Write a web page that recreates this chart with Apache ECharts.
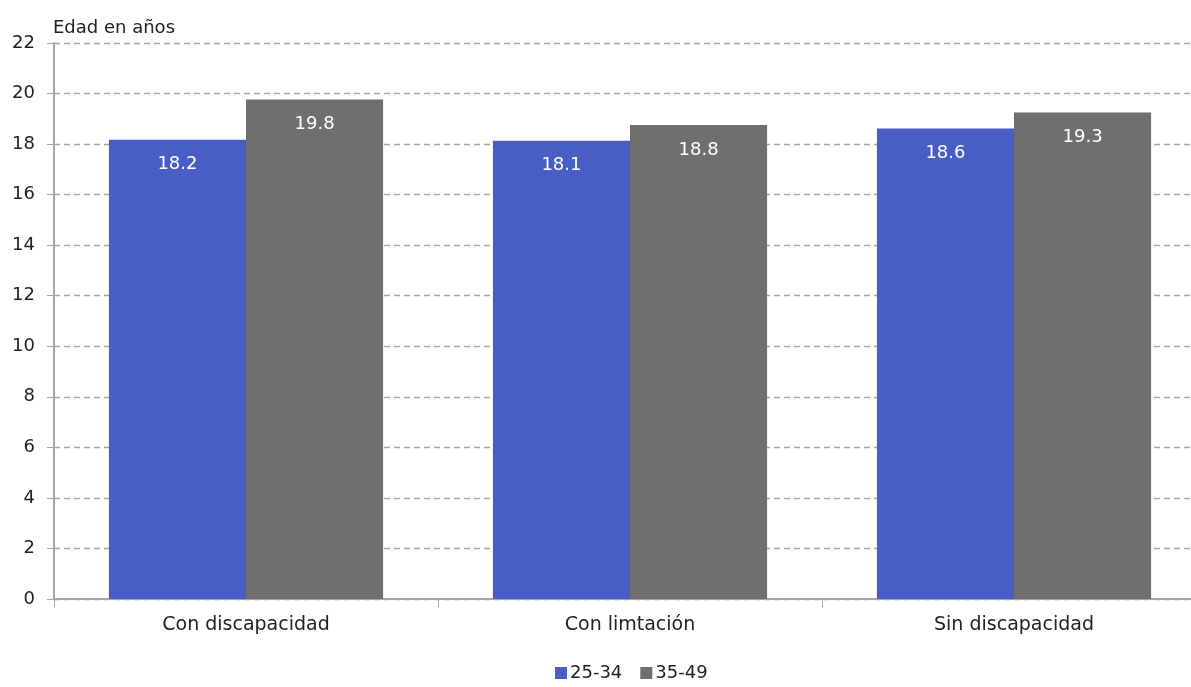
<!DOCTYPE html>
<html>
<head>
<meta charset="utf-8">
<script src="https://cdn.jsdelivr.net/npm/echarts@6/dist/echarts.min.js"></script>
<style>
  html, body { margin: 0; padding: 0; background: #fff; }
  #chart { width: 1191px; height: 687px; }
</style>
</head>
<body>
<div id="chart"></div>
<script>
const categories = ['Con discapacidad', 'Con limtación', 'Sin discapacidad']
const seriesNames = ['25-34', '35-49']
const values2534 = [18.17, 18.13, 18.62]
const values3549 = [19.76, 18.76, 19.25]
const colors = ['#485DC5', '#6F6F6F']

const font = 'DejaVu Sans'
const chart = echarts.init(document.getElementById('chart'))

function barSeries(name, data, color) {
  return {
    name: name,
    type: 'bar',
    data: data,
    barGap: '0%',
    barCategoryGap: '28.6%',
    itemStyle: { color: color },
    label: {
      show: true,
      position: 'insideTop',
      distance: 16,
      color: '#fff',
      fontFamily: font,
      fontSize: 18,
      formatter: p => p.value.toFixed(1)
    }
  }
}

chart.setOption({
  animation: false,
  textStyle: { fontFamily: font },
  // plot runs past the right edge, as in the source image
  grid: { left: 54, top: 43, width: 1152, height: 556, outerBoundsMode: 'none', containLabel: false },
  legend: {
    bottom: 0,
    left: 550,
    itemWidth: 12,
    itemHeight: 12,
    itemGap: 18,
    icon: 'rect',
    textStyle: { fontFamily: font, fontSize: 18, color: '#222', padding: [0, 0, 0, -2] },
    data: seriesNames
  },
  xAxis: {
    type: 'category',
    data: categories,
    axisLine: { lineStyle: { color: '#a6a6a6', width: 2 } },
    axisTick: { show: true, length: 8, lineStyle: { color: '#a6a6a6' } },
    axisLabel: { color: '#222', fontSize: 19, margin: 17, fontFamily: font }
  },
  yAxis: {
    type: 'value',
    min: 0,
    max: 22,
    interval: 2,
    name: 'Edad en años',
    nameLocation: 'end',
    nameGap: 6,
    nameTextStyle: { align: 'left', verticalAlign: 'bottom', color: '#222', fontSize: 18, fontFamily: font, padding: [0, 0, 0, -1] },
    axisLine: { show: true, lineStyle: { color: '#a6a6a6', width: 2 } },
    axisTick: { show: true, length: 7, lineStyle: { color: '#a6a6a6' } },
    axisLabel: { color: '#222', fontSize: 18, margin: 19, fontFamily: font },
    splitLine: { lineStyle: { color: '#a6a6a6', type: [6, 4], width: 1.3 } }
  },
  series: [
    barSeries(seriesNames[0], values2534, colors[0]),
    barSeries(seriesNames[1], values3549, colors[1])
  ]
})
</script>
</body>
</html>
